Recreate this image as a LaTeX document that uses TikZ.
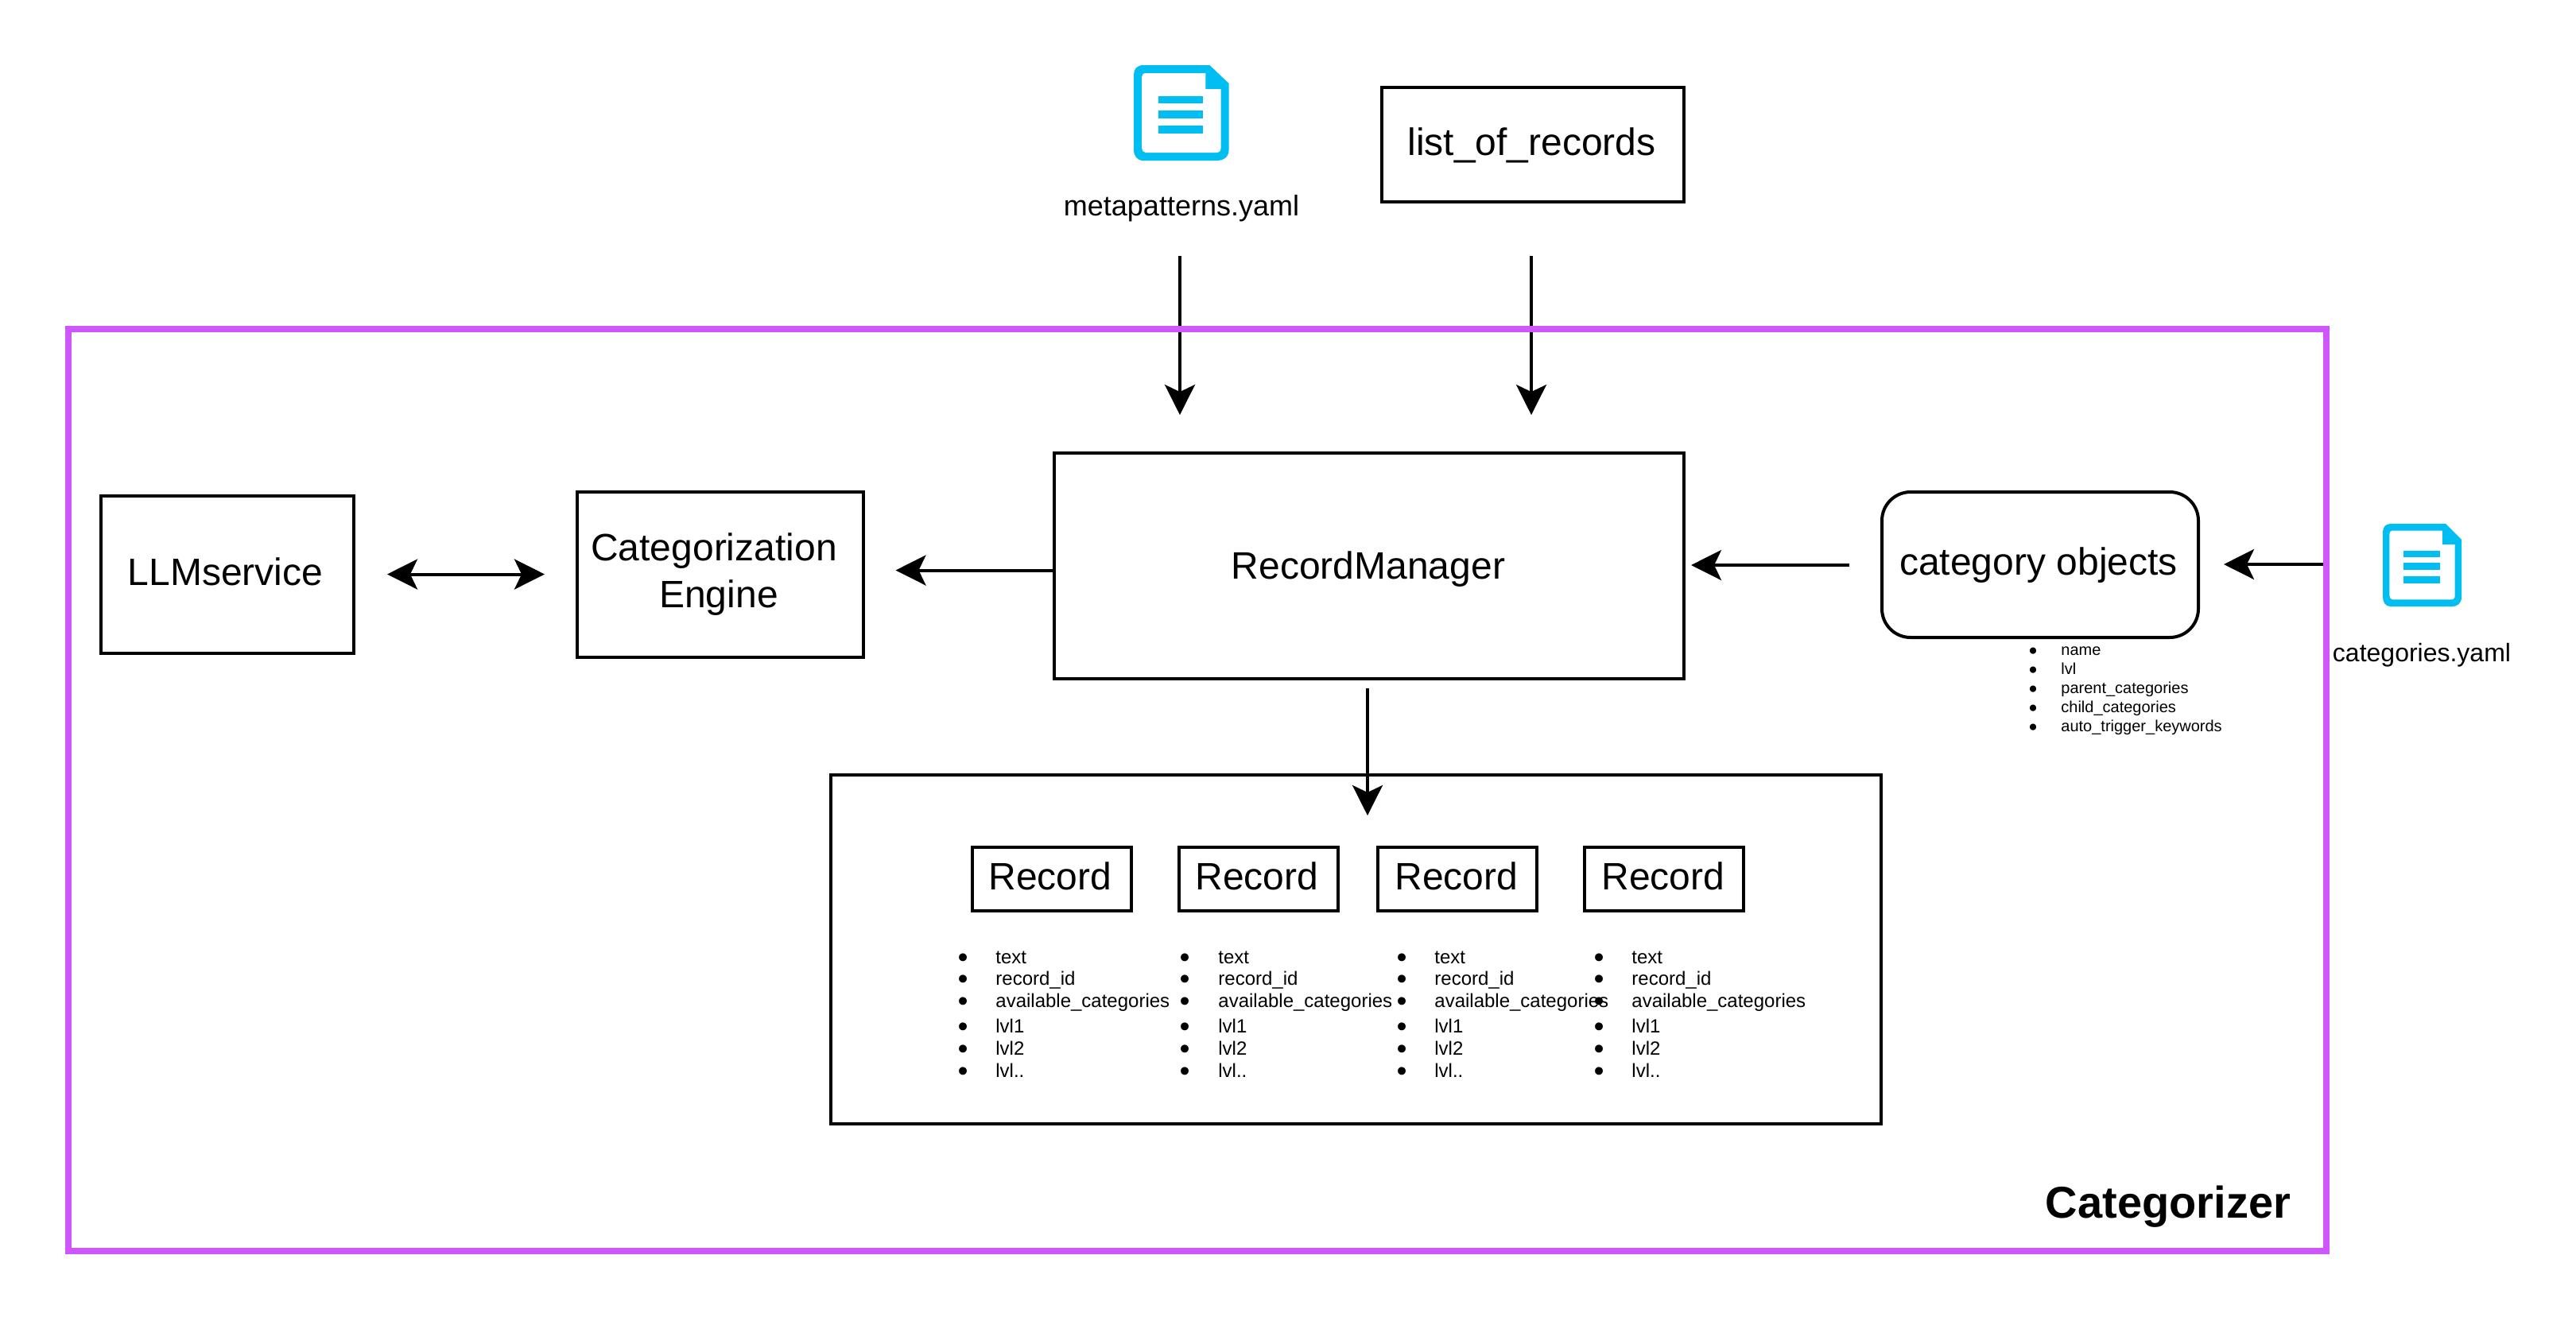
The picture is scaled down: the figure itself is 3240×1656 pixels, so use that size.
\documentclass[tikz,border=0pt]{standalone}
\usepackage{fontspec}
\setmainfont{Liberation Sans}
\newfontfamily\bulletfont{DejaVu Sans}
\usetikzlibrary{arrows.meta}
\definecolor{framec}{HTML}{CF55FF}
\definecolor{iconc}{HTML}{00BEF2}
\newcommand{\docicon}[4]{%
  \begin{scope}[shift={(#1,#2)},xscale=#3,yscale=#4]
    \fill[iconc] (12,0) -- (95,0) -- (119,23) -- (119,106) .. controls (119,116) and (112,120) .. (105,120) -- (12,120) .. controls (4,120) and (0,114) .. (0,106) -- (0,12) .. controls (0,5) and (4,0) .. (12,0) -- cycle;
    \fill[white] (14,10) -- (90,10) -- (90,30) -- (109,30) -- (109,104) .. controls (109,108) and (107,110) .. (103,110) -- (15,110) .. controls (12,110) and (10,107) .. (10,104) -- (10,15) .. controls (10,12) and (12,10) .. (14,10) -- cycle;
    \fill[iconc] (31,39) rectangle (87,48);
    \fill[iconc] (31,57) rectangle (87,67);
    \fill[iconc] (31,76) rectangle (87,86);
  \end{scope}}
\tikzset{
  x=0.5pt,y=-0.5pt,
  tipa/.tip={Stealth[length=19pt,width=19pt,inset=4.5pt]},
  box/.style={draw=black,line width=2pt,inner sep=0pt,text depth=0pt,font=\fontsize{24}{28}\selectfont},
  recbox/.style={box,minimum width=100pt,minimum height=40pt,text height=13pt},
  conn/.style={line width=2pt,-tipa},
  biconn/.style={line width=2pt,tipa-tipa},
  small/.style={inner sep=0pt,anchor=base west,font=\fontsize{12}{14}\selectfont},
  smallb/.style={inner sep=0pt,anchor=base,yshift=-2.5pt,font=\bulletfont\fontsize{17}{20}\selectfont},
  tiny/.style={inner sep=0pt,anchor=base west,font=\fontsize{10}{12}\selectfont},
  tinyb/.style={inner sep=0pt,anchor=base,yshift=-2.5pt,font=\bulletfont\fontsize{14}{16}\selectfont},
}
\begin{document}
\begin{tikzpicture}
\useasboundingbox (0,0) rectangle (3240,1656);
\fill[white] (0,0) rectangle (3240,1656);
% icons
\docicon{1426}{82}{1.005}{1}
\docicon{2997}{659}{0.832}{0.867}
\node[inner sep=0pt,anchor=base,font=\fontsize{18}{22}\selectfont] (mp) at (1486,271) {metapatterns.yaml};
\node[inner sep=0pt,anchor=base,font=\fontsize{16}{20}\selectfont] (cy) at (3046,832) {categories.yaml};
% boxes
\node[box,minimum width=190pt,minimum height=72pt,text height=13pt] (list) at (1927.5,182) {list\_of\_records\kern1pt};
\node[box,minimum width=159pt,minimum height=99pt,text height=13pt] (llm) at (286,723) {LLMservice\kern2.5pt};
\node[box,minimum width=180pt,minimum height=104pt,text depth=,text height=,align=center] (ce) at (906,723) {Categorization\kern8pt\\[1.5pt]Engine\kern2pt};
\node[box,minimum width=395.8pt,minimum height=141.85pt,text height=16pt] (rm) at (1722,712) {RecordManager\kern1pt};
\node[box,rounded corners=18pt,minimum width=199pt,minimum height=91.5pt,text height=13pt] (cat) at (2566,710.5) {category objects\kern2pt};
\node[draw=black,line width=2pt,minimum width=660.5pt,minimum height=219.5pt,inner sep=0pt] (recs) at (1705.5,1194) {};
\node[recbox] (r1) at (1323,1106) {Record\kern2pt};
\node[recbox] (r2) at (1583,1106) {Record\kern2pt};
\node[recbox] (r3) at (1833,1106) {Record\kern1pt};
\node[recbox] (r4) at (2093,1106) {Record\kern1pt};
% record field lists
\foreach \n/\bx/\tx in {1/1212/1252,2/1491/1532,3/1764/1804,4/2012/2052}{
  \foreach \i/\yy/\lab in {1/1212/text,2/1239/record\_id,3/1267/available\_categories,4/1299/lvl1,5/1327/lvl2,6/1355/lvl..}{
    \node[smallb] (b\n-\i) at (\bx,\yy) {•};
    \node[small] (f\n-\i) at (\tx,\yy) {\lab};
  }
}
% category attribute list
\foreach \i/\yy/\lab in {1/824/name,2/848/lvl,3/872/parent\_categories,4/896/child\_categories,5/920/auto\_trigger\_keywords}{
  \node[tinyb] (cb\i) at (2557,\yy) {•};
  \node[tiny] (cf\i) at (2592,\yy) {\lab};
}
% connector ends
\coordinate (a1s) at (1484,322); \coordinate (a1e) at (1484,522);
\coordinate (a2s) at (1926,322); \coordinate (a2e) at (1926,522);
\coordinate (a3s) at (2326,711); \coordinate (a3e) at (2127,711);
\coordinate (a4s) at (2924,710); \coordinate (a4e) at (2797,710);
\coordinate (a5s) at (1324,717.5); \coordinate (a5e) at (1126.5,717.5);
\coordinate (a6s) at (487,722.5);  \coordinate (a6e) at (685,722.5);
\coordinate (a7s) at (1720,866); \coordinate (a7e) at (1720,1026);
\draw[conn] (a1s) -- (a1e);
\draw[conn] (a2s) -- (a2e);
\draw[conn] (a3s) -- (a3e);
\draw[conn] (a4s) -- (a4e);
\draw[conn] (a5s) -- (a5e);
\draw[biconn] (a6s) -- (a6e);
\draw[conn] (a7s) -- (a7e);
% frame
\node[draw=framec,line width=4pt,minimum width=1420pt,minimum height=580pt,inner sep=0pt] (frame) at (1506,994) {};
\node[inner sep=0pt,anchor=base,font=\bfseries\fontsize{28}{32}\selectfont] (title) at (2727,1532) {Categorizer};
\end{tikzpicture}
\end{document}
